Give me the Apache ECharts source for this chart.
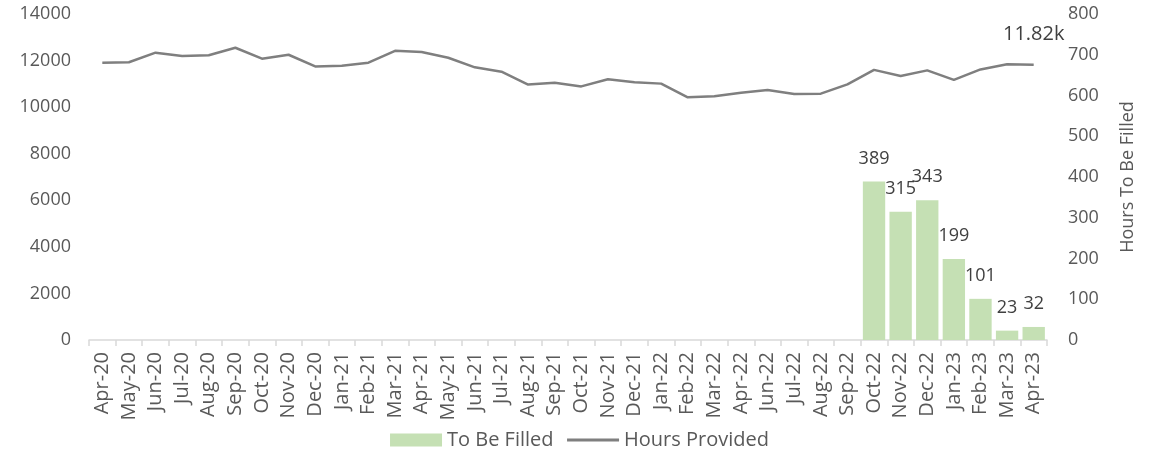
<!DOCTYPE html>
<html>
<head>
<meta charset="utf-8">
<script src="https://cdn.jsdelivr.net/npm/echarts@6/dist/echarts.min.js"></script>
<style>
  html, body { margin: 0; padding: 0; background: #ffffff; }
  #chart { width: 1159px; height: 452px; }
</style>
</head>
<body>
<div id="chart"></div>
<script>
// Monthly hours: provided (left axis, line) and still to be filled (right axis, bars)
const months = [
  'Apr-20', 'May-20', 'Jun-20', 'Jul-20', 'Aug-20', 'Sep-20', 'Oct-20', 'Nov-20', 'Dec-20',
  'Jan-21', 'Feb-21', 'Mar-21', 'Apr-21', 'May-21', 'Jun-21', 'Jul-21', 'Aug-21', 'Sep-21',
  'Oct-21', 'Nov-21', 'Dec-21', 'Jan-22', 'Feb-22', 'Mar-22', 'Apr-22', 'Jun-22', 'Jul-22',
  'Aug-22', 'Sep-22', 'Oct-22', 'Nov-22', 'Dec-22', 'Jan-23', 'Feb-23', 'Mar-23', 'Apr-23'
];

const hoursProvided = [
  11910, 11930, 12340, 12200, 12230, 12550, 12080, 12250, 11750,
  11780, 11910, 12420, 12370, 12120, 11710, 11520, 10970, 11050,
  10890, 11200, 11070, 11010, 10420, 10470, 10620, 10740, 10560,
  10580, 10980, 11600, 11340, 11580, 11170, 11620, 11840, 11820
];

const toBeFilled = [
  null, null, null, null, null, null, null, null, null,
  null, null, null, null, null, null, null, null, null,
  null, null, null, null, null, null, null, null, null,
  null, null, 389, 315, 343, 199, 101, 23, 32
];

const leftTicks = { min: 0, max: 14000, interval: 2000 };
const rightTicks = { min: 0, max: 800, interval: 100 };

const FONT = 'Open Sans';
const TICK_COLOR = '#595959';
const LABEL_COLOR = '#404040';

const lastIdx = hoursProvided.length - 1;

const chart = echarts.init(document.getElementById('chart'), null, { renderer: 'canvas' });

chart.setOption({
  animation: false,
  backgroundColor: '#ffffff',
  textStyle: { fontFamily: FONT },
  grid: { left: 89, right: 112, top: 14, bottom: 112, containLabel: false },
  legend: {
    bottom: -3,
    left: 'center',
    itemWidth: 52,
    itemHeight: 13,
    itemGap: 12,
    textStyle: { fontFamily: FONT, fontSize: 20, color: TICK_COLOR },
    data: [
      { name: 'To Be Filled', icon: 'rect' },
      { name: 'Hours Provided', itemStyle: { opacity: 0 }, lineStyle: { width: 3 } }
    ]
  },
  xAxis: {
    type: 'category',
    data: months,
    boundaryGap: true,
    axisLine: { show: true, lineStyle: { color: '#D9D9D9', width: 1.5 } },
    axisTick: { show: true, length: 6, lineStyle: { color: '#D9D9D9', width: 1.5 } },
    axisLabel: {
      interval: 0,
      rotate: 90,
      margin: 12,
      fontFamily: FONT,
      fontSize: 20,
      color: TICK_COLOR
    },
    splitLine: { show: false }
  },
  yAxis: [
    {
      type: 'value',
      min: leftTicks.min,
      max: leftTicks.max,
      interval: leftTicks.interval,
      position: 'left',
      axisLine: { show: false },
      axisTick: { show: false },
      splitLine: { show: false },
      axisLabel: {
        margin: 18,
        fontFamily: FONT,
        fontSize: 18,
        color: TICK_COLOR,
        formatter: v => String(v)
      }
    },
    {
      type: 'value',
      min: rightTicks.min,
      max: rightTicks.max,
      interval: rightTicks.interval,
      position: 'right',
      name: 'Hours To Be Filled',
      nameLocation: 'middle',
      nameGap: 72,
      nameRotate: 90,
      nameTextStyle: { fontFamily: FONT, fontSize: 18, color: TICK_COLOR },
      axisLine: { show: false },
      axisTick: { show: false },
      splitLine: { show: false },
      axisLabel: { margin: 21, fontFamily: FONT, fontSize: 18, color: TICK_COLOR }
    }
  ],
  series: [
    {
      name: 'To Be Filled',
      type: 'bar',
      yAxisIndex: 1,
      data: toBeFilled,
      barCategoryGap: '16%',
      itemStyle: { color: '#C5E0B4' },
      label: {
        show: true,
        position: 'top',
        distance: 14,
        fontFamily: FONT,
        fontSize: 18,
        color: LABEL_COLOR
      },
      z: 1
    },
    {
      name: 'Hours Provided',
      type: 'line',
      yAxisIndex: 0,
      data: hoursProvided,
      symbol: 'none',
      lineStyle: { color: '#7F7F7F', width: 2.5 },
      itemStyle: { color: '#7F7F7F' },
      // value label on the latest month only
      markPoint: {
        symbol: 'circle',
        symbolSize: 0,
        silent: true,
        label: {
          show: true,
          position: 'top',
          distance: 20,
          formatter: p => (p.value / 1000).toFixed(2) + 'k',
          fontFamily: FONT,
          fontSize: 20,
          color: LABEL_COLOR
        },
        data: [
          { coord: [months[lastIdx], hoursProvided[lastIdx]], value: hoursProvided[lastIdx] }
        ]
      },
      z: 2
    }
  ]
});
</script>
</body>
</html>
